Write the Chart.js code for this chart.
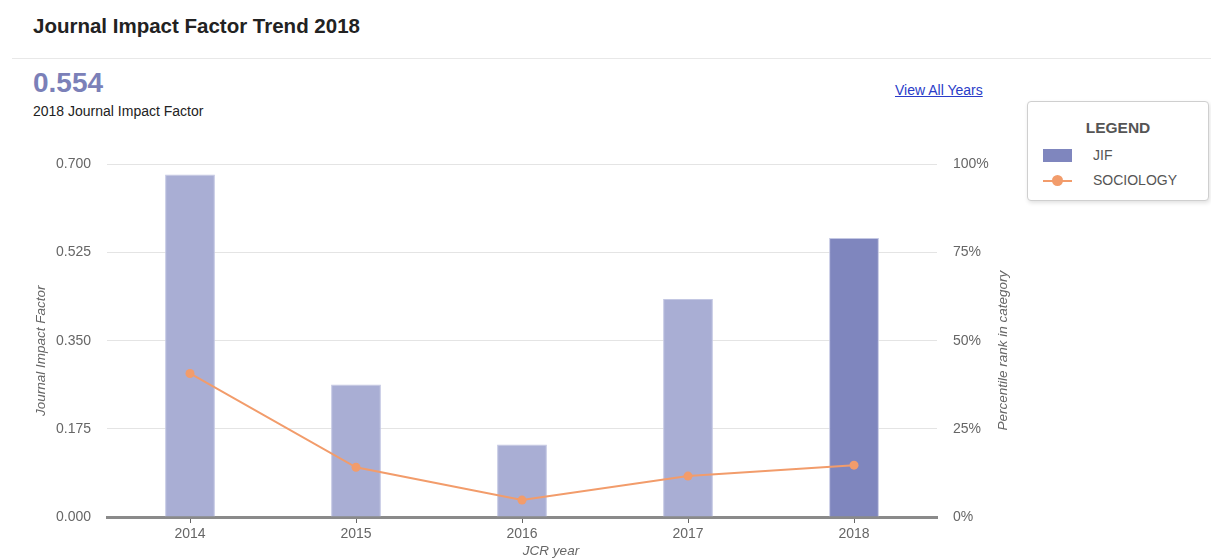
<!DOCTYPE html>
<html>
<head>
<meta charset="utf-8">
<script src="https://cdn.jsdelivr.net/npm/chart.js@4/dist/chart.umd.min.js"></script>
<style>
    body { margin: 0; width: 1211px; height: 558px; background: #fff; font-family: "Liberation Sans", Arial, sans-serif; overflow: hidden; position: relative; }
    .title { position: absolute; left: 33px; top: 14px; font-size: 20.5px; font-weight: bold; color: #222; }
    .rule { position: absolute; left: 12px; right: 0; top: 58px; height: 1px; background: #e8e8e8; }
    .jif-big { position: absolute; left: 33px; top: 67px; font-size: 28px; font-weight: bold; color: #7b80b8; }
    .jif-sub { position: absolute; left: 33px; top: 103px; font-size: 14px; color: #222; }
    .view-all { position: absolute; left: 895px; top: 82px; font-size: 14px; color: #2a3cc8; text-decoration: underline; }
    .legend { position: absolute; left: 1027px; top: 101px; width: 180px; height: 98px; border: 1px solid #cfcfcf; border-radius: 4px; box-shadow: 1px 2px 4px rgba(0,0,0,0.12); background: #fff; }
    .legend h4 { margin: 0; position: absolute; top: 17px; width: 100%; text-align: center; font-size: 15.5px; color: #555; }
    .legend .row { position: absolute; left: 15px; font-size: 14px; color: #555; }
    .swatch { position: absolute; left: 0; top: 2px; width: 29px; height: 13px; background: #7f86be; }
    .line-sw { position: absolute; left: 0; top: 8px; width: 29px; height: 2px; background: #f29c6b; }
    .line-sw:after { content: ''; position: absolute; left: 9px; top: -5px; width: 11px; height: 11px; border-radius: 50%; background: #f29c6b; }
    #wrap { position: absolute; left: 0; top: 140px; width: 1020px; height: 418px; }
</style>
</head>
<body>
<div class="title">Journal Impact Factor Trend 2018</div>
<div class="rule"></div>
<div class="jif-big">0.554</div>
<div class="jif-sub">2018 Journal Impact Factor</div>
<div class="view-all">View All Years</div>
<div class="legend">
    <h4>LEGEND</h4>
    <div class="row" style="top:45px;"><div class="swatch"></div><span style="margin-left:50px;">JIF</span></div>
    <div class="row" style="top:70px;"><div class="line-sw"></div><span style="margin-left:50px;">SOCIOLOGY</span></div>
</div>
<div id="wrap"><canvas id="chart"></canvas></div>
<script>
const years = ['2014', '2015', '2016', '2017', '2018'];
const jifValues = [0.680, 0.263, 0.144, 0.433, 0.554];
const percentileValues = [40.7, 14.1, 4.8, 11.6, 14.7];
const jifTicks = [0, 0.175, 0.35, 0.525, 0.7];
const pctTicks = [0, 25, 50, 75, 100];

const barColors = years.map((y, i) => i === years.length - 1 ? '#7f86be' : '#a9aed4');
const tickColor = '#666';
const tickFont = { family: '"Liberation Sans", Arial, sans-serif', size: 14 };

// axis titles drawn by hand so the right one reads bottom-to-top
const axisTitles = {
    id: 'axisTitles',
    afterDraw(chart) {
        const ctx = chart.ctx;
        const a = chart.chartArea;
        const midY = (a.top + a.bottom) / 2 + 10;
        ctx.save();
        ctx.fillStyle = tickColor;
        ctx.font = 'italic 13.5px "Liberation Sans", Arial, sans-serif';
        ctx.textAlign = 'center';
        ctx.textBaseline = 'middle';
        ctx.fillText('JCR year', 551, a.bottom + 34);
        ctx.translate(41, midY);
        ctx.rotate(-Math.PI / 2);
        ctx.fillText('Journal Impact Factor', 0, 0);
        ctx.restore();
        ctx.save();
        ctx.fillStyle = tickColor;
        ctx.font = 'italic 13.5px "Liberation Sans", Arial, sans-serif';
        ctx.textAlign = 'center';
        ctx.textBaseline = 'middle';
        ctx.translate(1003, midY);
        ctx.rotate(-Math.PI / 2);
        ctx.fillText('Percentile rank in category', 0, 0);
        ctx.restore();
    }
};

const ctx = document.getElementById('chart').getContext('2d');
new Chart(ctx, {
    type: 'bar',
    data: {
        labels: years,
        datasets: [{
            type: 'line',
            label: 'SOCIOLOGY',
            data: percentileValues,
            yAxisID: 'yPct',
            borderColor: '#f29c6b',
            backgroundColor: '#f29c6b',
            borderWidth: 2,
            pointRadius: 4.5,
            pointBorderWidth: 0,
            tension: 0,
            order: 0
        }, {
            type: 'bar',
            label: 'JIF',
            data: jifValues,
            yAxisID: 'yJif',
            backgroundColor: barColors,
            borderColor: '#c3c7e3',
            borderWidth: 1,
            barPercentage: 0.6,
            categoryPercentage: 0.5,
            order: 1
        }]
    },
    options: {
        responsive: true,
        maintainAspectRatio: false,
        animation: false,
        layout: { padding: { top: 23, left: 0, right: 0, bottom: 0 } },
        plugins: {
            legend: { display: false },
            tooltip: { enabled: false }
        },
        scales: {
            x: {
                grid: { display: true, offset: false, drawOnChartArea: false, drawTicks: true, tickLength: 6, color: '#666', lineWidth: 1 },
                border: { display: true, color: '#8a8a8a', width: 3 },
                ticks: { color: tickColor, font: tickFont, padding: 3 },
                afterFit(scale) { scale.height = 41; }
            },
            yJif: {
                position: 'left',
                min: 0,
                max: 0.7,
                afterBuildTicks(scale) { scale.ticks = jifTicks.map(v => ({ value: v })); },
                grid: { color: '#e4e4e4', lineWidth: 1, drawTicks: false },
                border: { display: false },
                ticks: { color: tickColor, font: tickFont, padding: 16, callback: v => v.toFixed(3) },
                afterFit(scale) { scale.width = 107; }
            },
            yPct: {
                position: 'right',
                min: 0,
                max: 100,
                afterBuildTicks(scale) { scale.ticks = pctTicks.map(v => ({ value: v })); },
                grid: { drawOnChartArea: false, drawTicks: false },
                border: { display: false },
                ticks: { color: tickColor, font: tickFont, padding: 16, callback: v => v + '%' },
                afterFit(scale) { scale.width = 83; }
            }
        }
    },
    plugins: [axisTitles]
});
</script>
</body>
</html>
